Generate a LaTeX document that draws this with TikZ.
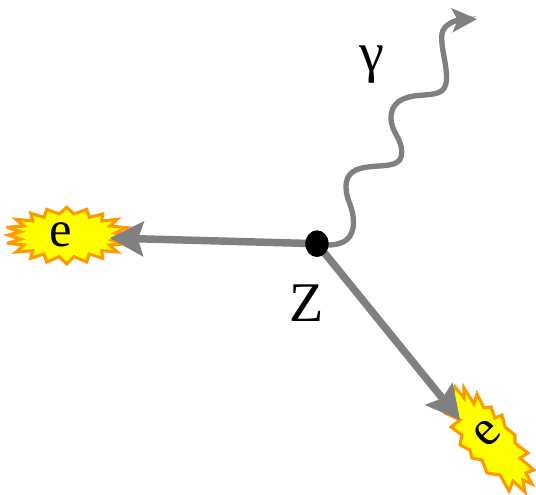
\documentclass[tikz,border=0pt]{standalone}
\usepackage{fontspec}
\setmainfont{Liberation Serif}
\usetikzlibrary{arrows.meta,shapes.geometric}
\definecolor{burstfill}{RGB}{255,255,0}
\definecolor{burstline}{RGB}{255,153,0}
\definecolor{trackgray}{RGB}{128,128,128}
\tikzset{
  x=0.75pt, y=-0.75pt,
  flash/.style={fill=burstfill, draw=burstline, line width=2.3pt, line join=miter, miter limit=4},
  track/.style={draw=trackgray, line width=5.6pt, -{Stealth[length=25.5pt,width=27pt,inset=4.5pt,line width=0pt]}},
  photon/.style={draw=trackgray, line width=4pt, -{Stealth[length=19pt,width=18.5pt,inset=4.5pt,line width=0pt]}},
  glyph/.style={text=black, inner sep=0pt}
}
\begin{document}
\begin{tikzpicture}
\useasboundingbox (0,0) rectangle (536,495);
% burst on the left
\draw[flash] (66.7,207.3) -- (74,214) -- (86.7,209.3) -- (89.3,217.3) -- (102.7,214) -- (101.7,221) -- (117.3,219.3) -- (110,226) -- (126.7,227.7) -- (115,233) -- (124,235) -- (112,240) -- (125,244) -- (109.3,245) -- (117.3,252) -- (101.7,250.7) -- (102.7,258.3) -- (89.3,254) -- (86.7,262) -- (74,256.7) -- (66.7,264) -- (59.3,256.7) -- (46.7,262) -- (44,254) -- (30.7,258.3) -- (32.7,250.7) -- (16,252) -- (24,245) -- (7.3,243.3) -- (20.7,239.3) -- (8.3,235) -- (20.7,231.7) -- (6.7,227.3) -- (24,226) -- (16,219.3) -- (32.7,221) -- (30.7,213.3) -- (44,217.3) -- (46.7,209.3) -- (59.3,214) -- cycle;
% burst at the lower right
\draw[flash] (455,387) -- (464,398) -- (464,388) -- (474,404) -- (477,394) -- (484,408) -- (491,407) -- (495,418) -- (502,415) -- (505,427) -- (515,435) -- (515,443) -- (528,453) -- (520,458) -- (534,470) -- (526,473) -- (532,484) -- (523,480) -- (525,492) -- (513,481) -- (509,491) -- (500,475) -- (487,473) -- (482,460) -- (472,458) -- (470,450) -- (460,445) -- (462,435) -- (451,427) -- (460,420) -- (445,413) -- cycle;
% vertex and the outgoing lines
\coordinate (leftend) at (110,238);
\coordinate (rightend) at (460,420);
\coordinate (photonend) at (477,19);
\coordinate (vertexpos) at (317,243.7);
\draw[track] (vertexpos) -- (leftend);
\draw[track] (vertexpos) -- (rightend);
\draw[photon] (vertexpos) -- (327,245)
  .. controls (345,245) and (353.5,238) .. (353.5,222)
  .. controls (353.5,207) and (346,200) .. (346,187)
  .. controls (346,172) and (356,168) .. (372,166.5)
  .. controls (390,165) and (401.7,166) .. (401.7,152)
  .. controls (401.7,138) and (391,132) .. (391,118)
  .. controls (391,103) and (402,97) .. (418,95.5)
  .. controls (435,94) and (446.5,95) .. (446.5,78)
  .. controls (446.5,62) and (441.7,52) .. (441.7,37)
  .. controls (441.7,28) and (448,23) .. (458,20)
  -- (photonend);
\node[ellipse, fill=black, minimum width=17.5pt, minimum height=20pt, inner sep=0pt] (vertex) at (vertexpos) {};
% labels
\node[glyph, font=\fontsize{38}{38}\selectfont] (lefte) at (61,234.5) {e};
\node[glyph, font=\fontsize{38}{38}\selectfont, rotate=45] (righte) at (487,433) {e};
\node[glyph, font=\fontsize{42}{42}\selectfont] (zlabel) at (307,303.5) {Z};
\node[glyph, font=\fontsize{42}{42}\selectfont] (gammalabel) at (372,65) {\char"03B3};
\end{tikzpicture}
\end{document}
